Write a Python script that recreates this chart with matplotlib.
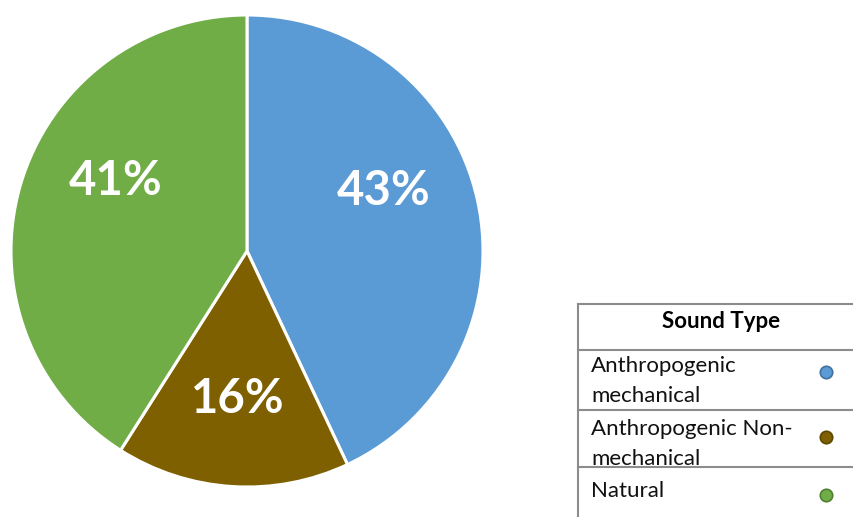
import matplotlib.pyplot as plt
import numpy as np

categories = ["Anthropogenic\nmechanical", "Anthropogenic Non-\nmechanical", "Natural"]
shares = [43, 16, 41]
colors = ["#5B9BD5", "#7F6000", "#70AD47"]
edge_colors = ["#41719C", "#5E4700", "#507E32"]
legend_title = "Sound Type"

W, H = 854, 517
fig = plt.figure(figsize=(W / 100, H / 100), dpi=100)

# pie axes, centred around (247, 251) px with radius ~236 px
cx, cy, r = 247, 251, 236
ax = fig.add_axes([(cx - r) / W, (H - cy - r) / H, 2 * r / W, 2 * r / H])
wedges, texts, autotexts = ax.pie(
    shares, colors=colors, startangle=90, counterclock=False,
    autopct="%d%%", pctdistance=0.64,
    wedgeprops={"linewidth": 2.2, "edgecolor": "white"},
    textprops={"color": "white", "fontsize": 34, "fontweight": "bold", "family": "Lato"},
)
ax.set_xlim(-1, 1)
ax.set_ylim(-1, 1)
ax.set_aspect("equal")

# nudge labels a bit away from the mid-angle like the original
angle_shift = [11, 0, -12]
for w, t, da in zip(wedges, autotexts, angle_shift):
    ang = np.deg2rad((w.theta1 + w.theta2) / 2 + da)
    t.set_position((0.63 * np.cos(ang), 0.63 * np.sin(ang)))

# legend table drawn in pixel coordinates
lx = fig.add_axes([0, 0, 1, 1])
lx.set_xlim(0, W)
lx.set_ylim(H, 0)
lx.axis("off")
line_kw = dict(color="#8c8c8c", linewidth=1.5)
left = 578
rows_y = [304, 350, 410, 467]
for y in rows_y:
    lx.plot([left, W], [y, y], **line_kw)
lx.plot([left, left], [rows_y[0], H], **line_kw)

lx.text(721, 322, legend_title,
        ha="center", va="center", fontsize=16, fontweight="bold", family="Lato")

text_y = [381, 444, 491]
dot_y = [372, 437, 495]
for name, c, ec, ty, dy in zip(categories, colors, edge_colors, text_y, dot_y):
    lx.text(591, ty, name, ha="left", va="center", fontsize=16,
            family="Lato", linespacing=1.6, color="#111111")
    lx.scatter([826], [dy], s=80, color=c, edgecolors=ec, linewidths=1.2, zorder=3)

fig.savefig("out.png", dpi=100)
